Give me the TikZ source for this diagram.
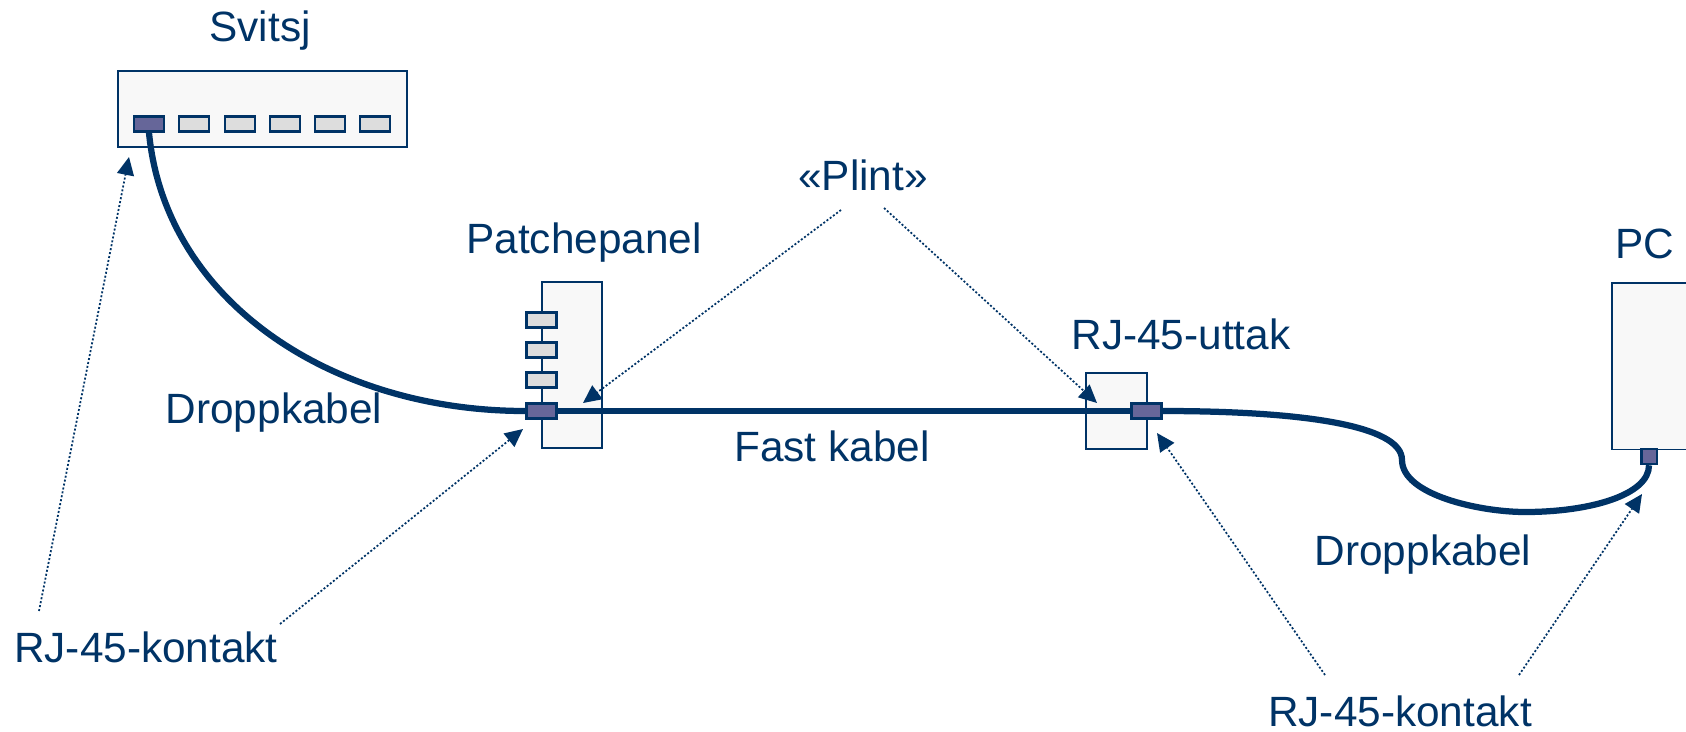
\documentclass[tikz,border=0pt]{standalone}
\usepackage{fontspec}
\setmainfont{Liberation Sans}
\usetikzlibrary{arrows.meta}
\definecolor{navy}{HTML}{003366}
\definecolor{portblue}{HTML}{666699}
\definecolor{portgray}{HTML}{DDDDDD}
\definecolor{boxgray}{HTML}{F8F8F8}
\tikzset{
  boxnode/.style={draw=navy,fill=boxgray,line width=0.03cm,inner sep=0pt},
  portnode/.style={draw=navy,fill=portgray,line width=0.05cm,inner sep=0pt,minimum width=0.6cm,minimum height=0.3cm},
  portused/.style={portnode,fill=portblue},
  kabel/.style={draw=navy,line width=0.125cm},
  pil/.style={draw=navy,line width=0.035cm,dash pattern=on 0.04cm off 0.04cm,-{Triangle[length=0.36cm,width=0.34cm]}},
  tekst/.style={text=navy,font=\fontsize{24.1}{28}\selectfont,inner sep=0pt}
}
\begin{document}
\begin{tikzpicture}[x=0.02cm,y=-0.02cm]
\useasboundingbox (0,0) rectangle (1686,731);
% bokser
\node[boxnode,minimum width=5.78cm,minimum height=1.52cm] (svitsj) at (262.5,109) {};
\node[boxnode,minimum width=1.2cm,minimum height=3.32cm] (panel) at (572,365) {};
\node[boxnode,minimum width=1.22cm,minimum height=1.52cm] (uttak) at (1116.5,411) {};
\node[boxnode,minimum width=2cm,minimum height=3.34cm,anchor=north west] (pc) at (1611,282) {};
% porter
\node[portused] (svitsjport) at (149,124) {};
\foreach \x in {194,240,285,330,375}
  \node[portnode] (svitsj\x) at (\x,124) {};
\foreach \y in {320,350,380}
  \node[portnode] (panel\y) at (541.5,\y) {};
\node[portused] (panelport) at (541.5,411) {};
\node[portused] (uttakport) at (1146.5,411) {};
\node[portused,minimum width=0.31cm] (pcport) at (1649,456.5) {};
% kabler
\draw[kabel] (svitsjport.south) .. controls (165,300) and (330,411) .. (panelport.west);
\draw[kabel] (panelport.east) -- (uttakport.west);
\draw[kabel] (uttakport.east) .. controls (1300,411) and (1402,425) .. (1402,460)
  .. controls (1402,495) and (1480,512) .. (1525,512)
  .. controls (1590,512) and (1649,495) .. (pcport.south);
% tekst
\node[tekst] (svitsjtxt) at (260,31) {Svitsj};
\node[tekst] (paneltxt) at (584,243) {Patchepanel};
\node[tekst] (pctxt) at (1645,244) {PC};
\node[tekst] (uttaktxt) at (1181,334) {RJ-45-uttak};
\node[tekst] (plint) at (863,175) {«Plint»};
\node[tekst] (dropp1) at (274,413) {Droppkabel};
\node[tekst] (fast) at (832,446) {Fast kabel};
\node[tekst] (dropp2) at (1423,555) {Droppkabel};
\node[tekst] (kontakt1) at (146,647) {RJ-45-kontakt};
\node[tekst] (kontakt2) at (1400,711) {RJ-45-kontakt};
% piler
\coordinate (a1) at (39,611);
\coordinate (b1) at (129,157);
\coordinate (a2) at (280,624);
\coordinate (b2) at (523,429);
\coordinate (a3) at (841,210);
\coordinate (b3) at (583,403);
\coordinate (a4) at (884,208);
\coordinate (b4) at (1097,403);
\coordinate (a5) at (1325,675);
\coordinate (b5) at (1157,433);
\coordinate (a6) at (1519,675);
\coordinate (b6) at (1642,494);
\foreach \i in {1,...,6}
  \draw[pil] (a\i) -- (b\i);
\end{tikzpicture}
\end{document}
